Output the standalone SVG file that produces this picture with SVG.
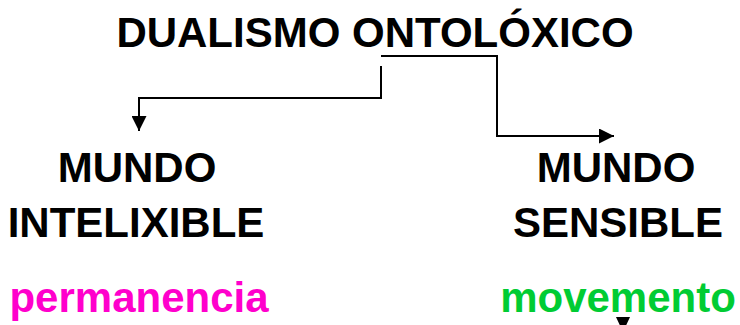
<svg xmlns="http://www.w3.org/2000/svg" width="740" height="325" viewBox="0 0 740 325">
<defs>
<style>
text{font-family:"Liberation Sans",Arial,sans-serif;font-weight:bold;font-size:42px;text-anchor:middle}
.k{fill:#000}
.p{fill:#FF00CC}
.g{fill:#00CC33}
.c{fill:none;stroke:#000;stroke-width:2}
</style>
<marker id="ah" viewBox="0 0 15 15" refX="15" refY="7.5" markerWidth="15" markerHeight="15" markerUnits="userSpaceOnUse" orient="auto">
<path d="M0,0 L15,7.5 L0,15 Z" fill="#000"/>
</marker>
</defs>
<rect width="740" height="325" fill="#fff"/>
<g id="title"><text class="k" x="375" y="47">DUALISMO ONTOLÓXICO</text></g>
<g id="intelixible"><text class="k" x="137" y="182">MUNDO</text><text class="k" x="136" y="237">INTELIXIBLE</text></g>
<g id="sensible"><text class="k" x="616" y="182">MUNDO</text><text class="k" x="618" y="237">SENSIBLE</text></g>
<g id="permanencia"><text class="p" x="139" y="312">permanencia</text></g>
<g id="movemento"><text class="g" x="618" y="312">movemento</text></g>
<g id="connectors">
<polyline class="c" points="381,56 497,56 497,136 614,136" marker-end="url(#ah)"/>
<polyline class="c" points="381,66 381,98 139,98 139,131" marker-end="url(#ah)"/>
<polygon points="616,317 630,317 623,332" fill="#000"/>
</g>
</svg>
